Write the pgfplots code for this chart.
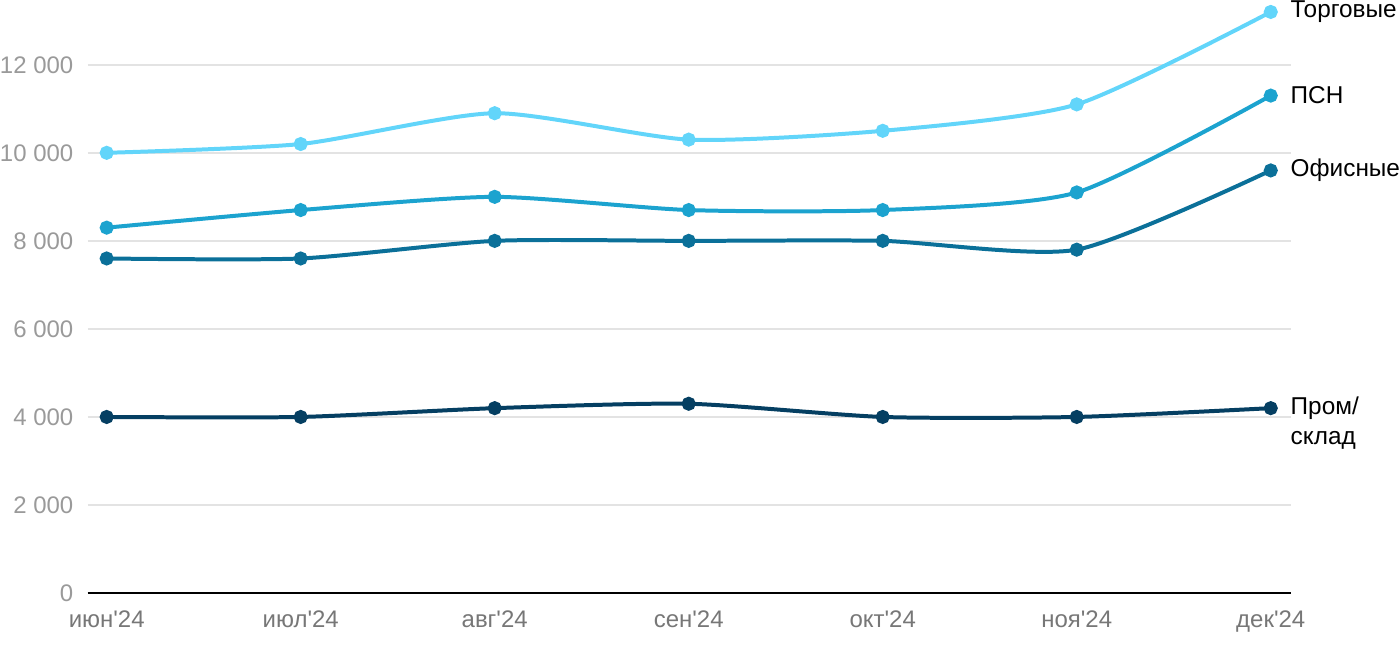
\documentclass[border=0pt]{standalone}
\usepackage{fontspec}
\setmainfont{Liberation Sans}
\usepackage{pgfplots}
\pgfplotsset{compat=1.18}
\definecolor{cTorg}{HTML}{62D5FA}
\definecolor{cPSN}{HTML}{1CA3CF}
\definecolor{cOff}{HTML}{0B7099}
\definecolor{cProm}{HTML}{053F62}
\definecolor{gridc}{HTML}{E3E3E3}
\definecolor{ytc}{HTML}{9A9A9A}
\definecolor{xtc}{HTML}{777777}
\tikzset{lbl/.style={anchor=west, inner sep=0pt, xshift=9pt, text=black, font=\fontsize{12.2}{15}\selectfont, align=left}}
\begin{document}
\begin{tikzpicture}
\begin{axis}[
  scale only axis, width=602.5pt, height=293pt,
  xmin=-0.098, xmax=6.103, ymin=0, ymax=13290,
  clip=false, scaled y ticks=false,
  axis x line*=bottom, axis y line*=left,
  y axis line style={draw=none},
  x axis line style={black, line width=1pt, -},
  major tick length=0pt,
  ymajorgrids, grid style={gridc, line width=1pt},
  ytick={0,2000,4000,6000,8000,10000,12000},
  yticklabels={0,2 000,4 000,6 000,8 000,10 000,12 000},
  xtick={0,1,2,3,4,5,6},
  xticklabels={июн\textquotesingle 24,июл\textquotesingle 24,авг\textquotesingle 24,сен\textquotesingle 24,окт\textquotesingle 24,ноя\textquotesingle 24,дек\textquotesingle 24},
  yticklabel style={font=\fontsize{12}{14}\selectfont, text=ytc, inner xsep=0pt, xshift=-7pt},
  xticklabel style={font=\fontsize{12}{14}\selectfont, text=xtc, yshift=-5.5pt},
  every axis plot/.append style={smooth, tension=0.4, line width=2pt, mark=*, mark size=2.5pt},
]
\addplot[cProm, mark options={draw=none, fill=cProm}] coordinates {(0,4000)(1,4000)(2,4200)(3,4300)(4,4000)(5,4000)(6,4200)}
  node[pos=1, lbl, yshift=-7.5pt] {Пром/\\склад};
\addplot[cOff, mark options={draw=none, fill=cOff}] coordinates {(0,7600)(1,7600)(2,8000)(3,8000)(4,8000)(5,7800)(6,9600)}
  node[pos=1, lbl] {Офисные};
\addplot[cPSN, mark options={draw=none, fill=cPSN}] coordinates {(0,8300)(1,8700)(2,9000)(3,8700)(4,8700)(5,9100)(6,11300)}
  node[pos=1, lbl] {ПСН};
\addplot[cTorg, mark options={draw=none, fill=cTorg}] coordinates {(0,10000)(1,10200)(2,10900)(3,10300)(4,10500)(5,11100)(6,13200)}
  node[pos=1, lbl] {Торговые};
\coordinate (sw) at (rel axis cs:0,0);
\coordinate (ne) at (rel axis cs:1,1);
\end{axis}
\path ([shift={(-43.5pt,-28pt)}]sw) rectangle ([shift={(54pt,4pt)}]ne);
\end{tikzpicture}
\end{document}
